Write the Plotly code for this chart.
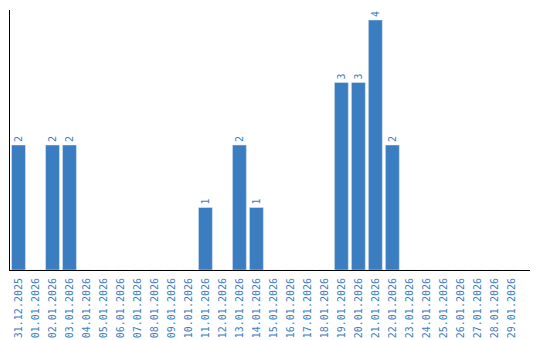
import plotly.graph_objects as go

dates = ["31.12.2025"] + [f"{d:02d}.01.2026" for d in range(1, 30)]
values = {"31.12.2025": 2, "02.01.2026": 2, "03.01.2026": 2, "11.01.2026": 1,
          "13.01.2026": 2, "14.01.2026": 1, "19.01.2026": 3, "20.01.2026": 3,
          "21.01.2026": 4, "22.01.2026": 2}
counts = [values.get(d, 0) for d in dates]
labels = [str(v) if v else "" for v in counts]

blue = "#3b7dc1"
fig = go.Figure(go.Bar(
    x=dates, y=counts, marker_color=blue, text=labels,
    textposition="outside", textangle=-90, cliponaxis=False,
    textfont=dict(family="DejaVu Sans Mono", size=10, color=blue),
))
fig.update_layout(
    width=540, height=340, margin=dict(l=10, r=10, t=10, b=70, autoexpand=False),
    paper_bgcolor="white", plot_bgcolor="white", bargap=0.18,
    showlegend=False,
)
fig.update_xaxes(type="category", tickangle=-90, showline=True, linecolor="black",
                 linewidth=1, ticks="", range=[-0.5, 30.1], ticklabelstandoff=3,
                 automargin=False,
                 tickfont=dict(family="DejaVu Sans Mono", size=10, color=blue))
fig.update_yaxes(range=[0, 4.16], showline=True, linecolor="black", linewidth=1,
                 showgrid=False, showticklabels=False, ticks="", zeroline=False,
                 automargin=False)
fig.write_html("out.html")
